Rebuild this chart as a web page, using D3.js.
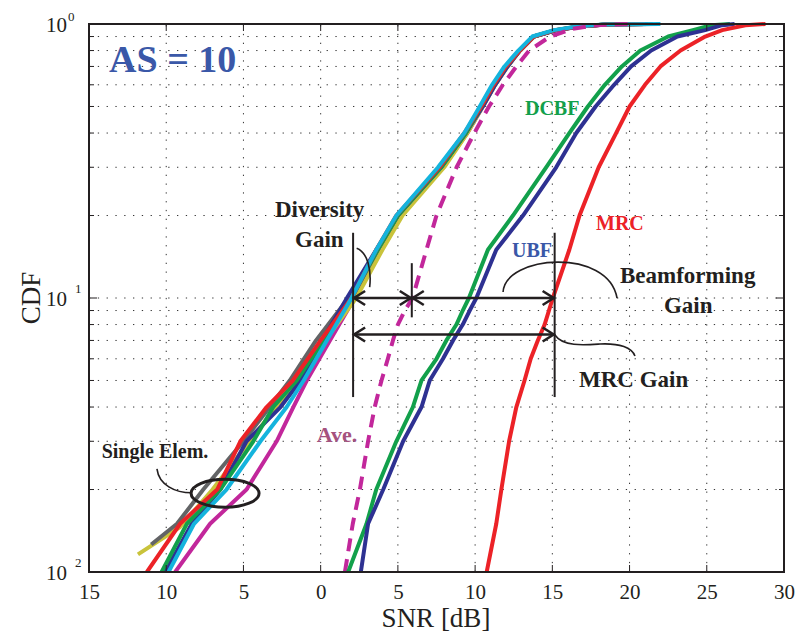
<!DOCTYPE html>
<html>
<head>
<meta charset="utf-8">
<script src="https://cdn.jsdelivr.net/npm/d3@7"></script>
<style>
  body { margin: 0; background: #fff; }
  svg { display: block; font-family: "Liberation Serif", "Times New Roman", serif; }
</style>
</head>
<body>
<svg width="796" height="635"></svg>
<script>
const plotBox = {left: 89, right: 784, top: 24, bottom: 572};

// x ticks (SNR in dB) and y decades
const snrTicks = [-15, -10, -5, 0, 5, 10, 15, 20, 25, 30];
const cdfDecades = [0.01, 0.1, 1];
const cdfDecadeLabels = ["2", "1", "0"];

// single element curves: [snr, cdf]
const singleGray = [[-10.97,0.0126],[-9.3,0.015],[-7.6,0.02],[-5.0,0.03],[-3.3,0.04],[-2.0,0.05],[-0.3,0.07],[1.8,0.1],[3.7,0.15],[5.0,0.2],[7.8,0.3],[9.4,0.4],[10.4,0.5],[11.2,0.6],[12.0,0.7],[12.9,0.8],[13.8,0.9],[15.3,0.95],[16.8,0.98],[18.5,0.995],[21.5,1.0]];
const singleYellow = [[-11.83,0.0116],[-9.1,0.0146],[-7.0,0.02],[-4.6,0.03],[-2.9,0.04],[-1.5,0.05],[0.3,0.07],[2.3,0.1],[4.0,0.15],[5.3,0.2],[8.0,0.3],[9.5,0.4],[10.5,0.5],[11.3,0.6],[12.1,0.7],[12.9,0.8],[13.8,0.9],[15.2,0.95],[16.7,0.98],[18.4,0.995],[21.0,1.0]];
const singleRed = [[-11.25,0.01],[-9.1,0.015],[-6.7,0.02],[-5.2,0.03],[-3.5,0.04],[-1.8,0.05],[0.0,0.07],[2.0,0.1],[3.6,0.15],[4.9,0.2],[7.7,0.3],[9.3,0.4],[10.4,0.5],[11.2,0.6],[12.0,0.7],[12.9,0.8],[13.8,0.9],[15.2,0.95],[16.8,0.98],[18.5,0.995],[21.0,1.0]];
const singleGreen = [[-10.3,0.01],[-8.66,0.015],[-6.5,0.02],[-4.36,0.03],[-3.07,0.04],[-1.55,0.05],[0.2,0.07],[2.0,0.1],[3.7,0.15],[5.0,0.2],[7.8,0.3],[9.4,0.4],[10.4,0.5],[11.2,0.6],[12.0,0.7],[12.9,0.8],[13.8,0.9],[15.2,0.95],[16.7,0.98],[18.4,0.995],[21.0,1.0]];
const singleBlue = [[-10.07,0.01],[-8.34,0.015],[-6.5,0.02],[-4.8,0.03],[-2.6,0.04],[-1.3,0.05],[0.1,0.07],[1.7,0.1],[3.6,0.15],[5.0,0.2],[7.8,0.3],[9.4,0.4],[10.5,0.5],[11.3,0.6],[12.1,0.7],[12.9,0.8],[13.8,0.9],[15.3,0.95],[16.8,0.98],[18.5,0.995],[21.2,1.0]];
const singleCyan = [[-9.85,0.01],[-8.2,0.015],[-6.1,0.02],[-3.9,0.03],[-2.2,0.04],[-1.1,0.05],[0.4,0.07],[2.0,0.1],[3.6,0.15],[4.9,0.2],[7.6,0.3],[9.3,0.4],[10.3,0.5],[11.1,0.6],[11.9,0.7],[12.8,0.8],[13.7,0.9],[15.1,0.95],[16.6,0.98],[18.3,0.995],[22.0,1.0]];
const singleMagenta = [[-9.42,0.01],[-7.16,0.015],[-4.8,0.02],[-2.85,0.03],[-1.77,0.04],[-0.9,0.05],[0.6,0.07],[2.2,0.1],[3.9,0.15],[5.2,0.2],[7.9,0.3],[9.5,0.4],[10.5,0.5],[11.3,0.6],[12.1,0.7],[12.9,0.8],[13.8,0.9],[15.2,0.95],[16.7,0.98],[18.4,0.995],[21.0,1.0]];

// combined schemes
const aveCurve = [[1.57,0.01],[2.08,0.015],[2.54,0.02],[3.07,0.03],[3.5,0.04],[3.94,0.05],[4.35,0.06],[4.68,0.07],[5.0,0.08],[5.45,0.09],[5.95,0.1],[6.85,0.15],[7.5,0.2],[8.8,0.3],[9.95,0.4],[10.9,0.5],[11.8,0.6],[12.67,0.7],[13.5,0.8],[14.85,0.9],[16.3,0.96],[17.8,0.99],[20.0,1.0]];
const dcbfCurve = [[1.78,0.01],[2.97,0.015],[3.6,0.02],[4.9,0.03],[5.97,0.04],[6.53,0.05],[7.5,0.06],[8.14,0.07],[8.79,0.08],[9.2,0.09],[9.6,0.1],[10.83,0.15],[12.45,0.2],[14.6,0.3],[16.1,0.4],[17.3,0.5],[18.4,0.6],[19.5,0.7],[20.7,0.8],[22.5,0.9],[24.1,0.95],[25.3,0.99],[26.5,1.0]];
const ubfCurve = [[2.6,0.01],[3.07,0.015],[4.05,0.02],[5.34,0.03],[6.53,0.04],[7.06,0.05],[7.92,0.06],[8.57,0.07],[9.2,0.08],[9.65,0.09],[10.08,0.1],[11.37,0.15],[13.1,0.2],[15.25,0.3],[16.55,0.4],[17.8,0.5],[19.0,0.6],[20.1,0.7],[21.4,0.8],[23.1,0.9],[24.9,0.95],[26.0,0.99],[26.8,1.0]];
const mrcCurve = [[10.75,0.01],[11.37,0.015],[11.7,0.02],[12.2,0.03],[12.67,0.04],[13.2,0.05],[13.6,0.06],[14.06,0.07],[14.5,0.08],[15.03,0.1],[16.1,0.15],[16.76,0.2],[18.0,0.3],[19.13,0.4],[20.0,0.5],[21.0,0.6],[22.0,0.7],[23.3,0.8],[24.9,0.9],[26.0,0.95],[27.5,0.99],[28.8,1.0]];

const seriesList = [
  {data: singleMagenta, color: "#c2279b"},
  {data: singleYellow, color: "#c9c33b"},
  {data: singleGray, color: "#636466"},
  {data: singleBlue, color: "#2e3192"},
  {data: singleGreen, color: "#12a04b"},
  {data: singleRed, color: "#ec2227"},
  {data: singleCyan, color: "#14b4dd"},
  {data: aveCurve, color: "#c2279b", dash: "13,8"},
  {data: dcbfCurve, color: "#12a04b"},
  {data: ubfCurve, color: "#2e3192"},
  {data: mrcCurve, color: "#ec2227"}
];

// annotation geometry in data units
const gainLines = [
  {snr: 2.1, lo: 0.0435, hi: 0.173},
  {snr: 5.9, lo: 0.085, hi: 0.134},
  {snr: 15.15, lo: 0.0435, hi: 0.173}
];
const gainArrows = [
  {from: 2.1, to: 5.9, cdf: 0.1},
  {from: 5.9, to: 15.15, cdf: 0.1},
  {from: 2.1, to: 15.15, cdf: 0.0736}
];
const textLabels = [
  {text: "AS = 10", snr: -13.7, cdf: 0.668, size: 38, color: "#3a58a8"},
  {text: "DCBF", snr: 13.23, cdf: 0.466, size: 20, color: "#12a04b"},
  {text: "UBF", snr: 12.39, cdf: 0.1415, size: 20, color: "#3a58a8"},
  {text: "MRC", snr: 17.83, cdf: 0.177, size: 20, color: "#ec2227"},
  {text: "Beamforming", snr: 19.38, cdf: 0.1134, size: 23, color: "#231f20"},
  {text: "Gain", snr: 22.23, cdf: 0.0882, size: 23, color: "#231f20"},
  {text: "MRC Gain", snr: 16.73, cdf: 0.0473, size: 23, color: "#231f20"},
  {text: "Diversity", snr: -2.96, cdf: 0.1976, size: 23, color: "#231f20"},
  {text: "Gain", snr: -1.66, cdf: 0.1535, size: 23, color: "#231f20"},
  {text: "Single Elem.", snr: -14.18, cdf: 0.0261, size: 20, color: "#231f20"},
  {text: "Ave.", snr: -0.26, cdf: 0.0299, size: 22, color: "#a5527e"}
];
// leader curves: anchor in data units, shape as relative path
const leaders = [
  {snr: 2.33, cdf: 0.152, path: "c11,4 15,22 13,39"},
  {snr: 11.81, cdf: 0.1051, path: "c2,-37 105,-45 114,6"},
  {snr: 15.17, cdf: 0.0733, path: "c8,12 30,10 45,9 c20,-1 32,4 35,12"},
  {snr: -10.6, cdf: 0.0238, path: "c2,16 18,24 35,24"}
];
const ellipseMark = {snr: -6.19, cdf: 0.01937, rx: 34, ry: 14};

function getSnrScale(){
  return d3.scaleLinear().domain([-15, 30]).range([plotBox.left, plotBox.right]);
}
function getCdfScale(){
  return d3.scaleLog().domain([0.01, 1]).range([plotBox.bottom, plotBox.top]);
}

function renderGrid(svg, x, y){
  var minor = [];
  [0.01, 0.1].forEach(function(d){ for (var k = 1; k < 10; k++) minor.push(d*k); });
  minor.push(1);
  var g = svg.append("g").attr("class", "grid")
             .attr("stroke", "#333").attr("stroke-width", 1).attr("stroke-dasharray", "1.3,7.5");
  g.selectAll(".vg").data(snrTicks.slice(1, -1)).join("line")
   .attr("x1", d => x(d)).attr("x2", d => x(d))
   .attr("y1", plotBox.bottom).attr("y2", plotBox.top);
  g.selectAll(".hg").data(minor.filter(d => d > 0.0101 && d < 0.999)).join("line")
   .attr("x1", plotBox.left).attr("x2", plotBox.right)
   .attr("y1", d => y(d)).attr("y2", d => y(d));
  return minor;
}

function renderAxes(svg, x, y, minor){
  var xAxis = d3.axisBottom(x).tickValues(snrTicks).tickSize(0).tickPadding(12)
                .tickFormat(d => Math.abs(d));
  var gx = svg.append("g")
      .attr("transform", "translate(0," + plotBox.bottom + ")")
      .call(xAxis);
  gx.select(".domain").remove();
  gx.selectAll(".tick text").attr("font-size", 21).attr("fill", "#231f20")
    .attr("font-family", "Liberation Serif").attr("dy", "0.71em");

  // tick marks inside the box, all four sides
  var tk = svg.append("g").attr("stroke", "#231f20").attr("stroke-width", 1);
  snrTicks.slice(1, -1).forEach(function(d){
    tk.append("line").attr("x1", x(d)).attr("x2", x(d)).attr("y1", plotBox.bottom).attr("y2", plotBox.bottom - 7);
    tk.append("line").attr("x1", x(d)).attr("x2", x(d)).attr("y1", plotBox.top).attr("y2", plotBox.top + 7);
  });
  minor.forEach(function(d){
    var len = cdfDecades.indexOf(d) >= 0 ? 8 : 5;
    tk.append("line").attr("x1", plotBox.left).attr("x2", plotBox.left + len).attr("y1", y(d)).attr("y2", y(d));
    tk.append("line").attr("x1", plotBox.right).attr("x2", plotBox.right - len).attr("y1", y(d)).attr("y2", y(d));
  });

  svg.append("rect")
     .attr("x", plotBox.left).attr("y", plotBox.top)
     .attr("width", plotBox.right - plotBox.left).attr("height", plotBox.bottom - plotBox.top)
     .attr("fill", "none").attr("stroke", "#231f20").attr("stroke-width", 2);

  // y decade labels, 10 with exponent
  var gy = svg.append("g").attr("fill", "#231f20");
  cdfDecades.forEach(function(d, i){
    gy.append("text").attr("x", 67).attr("y", y(d) + 8)
      .attr("text-anchor", "end").attr("font-size", 21).text("10");
    gy.append("text").attr("x", d === 1 ? 68 : 75).attr("y", y(d) + (d === 1 ? -3 : -5))
      .attr("font-size", 13).text(cdfDecadeLabels[i]);
  });

  svg.append("text").attr("x", 436).attr("y", 627).attr("text-anchor", "middle")
     .attr("font-size", 27).attr("fill", "#231f20").text("SNR [dB]");
  svg.append("text").attr("transform", "translate(40," + y(0.1) + ") rotate(-90)")
     .attr("text-anchor", "middle").attr("font-size", 27).attr("fill", "#231f20").text("CDF");
}

function renderCurves(svg, x, y){
  svg.append("clipPath").attr("id", "plotClip").append("rect")
     .attr("x", plotBox.left).attr("y", plotBox.top - 2)
     .attr("width", plotBox.right - plotBox.left).attr("height", plotBox.bottom - plotBox.top + 2);
  var line = d3.line().x(d => x(d[0])).y(d => y(d[1]));
  svg.append("g").attr("clip-path", "url(#plotClip)")
     .selectAll("path").data(seriesList).join("path")
     .attr("d", d => line(d.data))
     .attr("fill", "none")
     .attr("stroke", d => d.color)
     .attr("stroke-width", 4)
     .attr("stroke-linejoin", "round")
     .attr("stroke-dasharray", d => d.dash || null);
}

function renderAnnotations(svg, x, y){
  var g = svg.append("g").attr("stroke", "#231f20").attr("fill", "none");
  g.selectAll(".gl").data(gainLines).join("line")
   .attr("x1", d => x(d.snr)).attr("x2", d => x(d.snr))
   .attr("y1", d => y(d.lo)).attr("y2", d => y(d.hi))
   .attr("stroke-width", 2);

  function head(tx, ty, dir){
    return "M" + (tx - dir*11) + "," + (ty - 7) + "L" + tx + "," + ty + "L" + (tx - dir*11) + "," + (ty + 7);
  }
  gainArrows.forEach(function(a){
    var x1 = x(a.from), x2 = x(a.to), yy = y(a.cdf);
    g.append("line").attr("x1", x1).attr("x2", x2).attr("y1", yy).attr("y2", yy).attr("stroke-width", 2.6);
    g.append("path").attr("d", head(x1 + 1, yy, -1)).attr("stroke-width", 2.6);
    g.append("path").attr("d", head(x2 - 1, yy, 1)).attr("stroke-width", 2.6);
  });

  g.selectAll(".ld").data(leaders).join("path")
   .attr("d", d => "M" + x(d.snr) + "," + y(d.cdf) + d.path)
   .attr("stroke-width", 1.6);

  g.append("ellipse")
   .attr("cx", x(ellipseMark.snr)).attr("cy", y(ellipseMark.cdf))
   .attr("rx", ellipseMark.rx).attr("ry", ellipseMark.ry)
   .attr("stroke-width", 3);

  svg.append("g").selectAll("text").data(textLabels).join("text")
     .attr("x", d => x(d.snr)).attr("y", d => y(d.cdf))
     .attr("font-size", d => d.size).attr("font-weight", "bold")
     .attr("fill", d => d.color).text(d => d.text);
}

function renderChart(){
  var svg = d3.select("svg");
  var x = getSnrScale();
  var y = getCdfScale();
  var minor = renderGrid(svg, x, y);
  renderCurves(svg, x, y);
  renderAxes(svg, x, y, minor);
  renderAnnotations(svg, x, y);
}
renderChart();
</script>
</body>
</html>
